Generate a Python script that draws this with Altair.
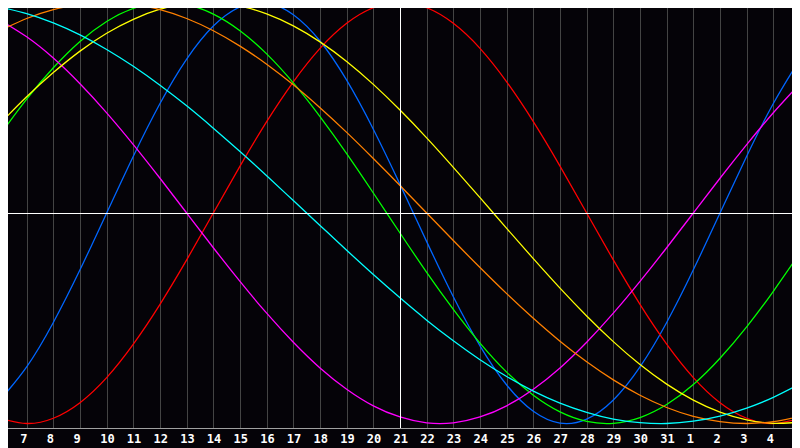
import json
import altair as alt
import pandas as pd

# day index: -1 = day 6 (left edge) ... 29 = day 5 of next month (right edge)
day_index = list(range(-1, 30))
tick_index = list(range(0, 29))
day_labels = ["7", "8", "9", "10", "11", "12", "13", "14", "15", "16", "17", "18",
              "19", "20", "21", "22", "23", "24", "25", "26", "27", "28", "29", "30",
              "31", "1", "2", "3", "4"]
today_index = [14]
midline = [0.0]

physical = [-0.888, -0.731, -0.520, -0.270, 0.0, 0.270, 0.520, 0.731, 0.888, 0.979, 0.998,
            0.942, 0.817, 0.631, 0.398, 0.136, -0.136, -0.398, -0.631, -0.817, -0.942,
            -0.998, -0.979, -0.888, -0.731, -0.520, -0.270, 0.0, 0.270, 0.520, 0.731]
emotional = [-0.975, -1.0, -0.975, -0.901, -0.782, -0.623, -0.434, -0.223, 0.0, 0.223, 0.434,
             0.623, 0.782, 0.901, 0.975, 1.0, 0.975, 0.901, 0.782, 0.623, 0.434, 0.223, 0.0,
             -0.223, -0.434, -0.623, -0.782, -0.901, -0.975, -1.0, -0.975]
intellectual = [0.372, 0.541, 0.690, 0.815, 0.910, 0.972, 0.999, 0.990, 0.945, 0.866, 0.756,
                0.618, 0.458, 0.282, 0.095, -0.095, -0.282, -0.458, -0.618, -0.756, -0.866,
                -0.945, -0.990, -0.999, -0.972, -0.910, -0.815, -0.690, -0.541, -0.372, -0.189]
intuitive = [0.916, 0.837, 0.736, 0.614, 0.476, 0.325, 0.165, 0.0, -0.165, -0.325, -0.476,
             -0.614, -0.736, -0.837, -0.916, -0.969, -0.997, -0.997, -0.969, -0.916, -0.837,
             -0.736, -0.614, -0.476, -0.325, -0.165, 0.0, 0.165, 0.325, 0.476, 0.614]
aesthetic = [0.425, 0.552, 0.667, 0.769, 0.854, 0.920, 0.968, 0.994, 0.999, 0.983, 0.946,
             0.889, 0.813, 0.720, 0.611, 0.489, 0.357, 0.217, 0.073, -0.073, -0.217, -0.357,
             -0.489, -0.611, -0.720, -0.813, -0.889, -0.946, -0.983, -0.999, -0.994]
awareness = [0.866, 0.924, 0.966, 0.991, 1.0, 0.991, 0.966, 0.924, 0.866, 0.793, 0.707,
             0.609, 0.5, 0.383, 0.259, 0.131, 0.0, -0.131, -0.259, -0.383, -0.5, -0.609,
             -0.707, -0.793, -0.866, -0.924, -0.966, -0.991, -1.0, -0.991, -0.966]
spiritual = [0.979, 0.947, 0.903, 0.846, 0.777, 0.697, 0.607, 0.509, 0.403, 0.292, 0.177,
             0.059, -0.059, -0.177, -0.292, -0.403, -0.509, -0.607, -0.697, -0.777, -0.846,
             -0.903, -0.947, -0.979, -0.996, -1.0, -0.989, -0.965, -0.927, -0.876, -0.812]

series_names = ["Physical", "Emotional", "Intellectual", "Intuitive", "Aesthetic",
                "Awareness", "Spiritual"]
series_values = [physical, emotional, intellectual, intuitive, aesthetic, awareness, spiritual]
series_colors = ["#0066ff", "#ff0000", "#00ff00", "#ff00ff", "#ffff00", "#ff8000", "#00ffff"]

rows = []
for name, vals in zip(series_names, series_values):
    for i, v in zip(day_index, vals):
        rows.append({"i": i, "v": v, "series": name})
df = pd.DataFrame(rows)

x_scale = alt.Scale(domain=[-1, 29], nice=False, zero=False)
y_scale = alt.Scale(domain=[-1.0214, 1.0119], nice=False, zero=False)

label_expr = json.dumps(day_labels) + "[datum.value]"

lines = alt.Chart(df).mark_line(strokeWidth=1.3, interpolate="natural").encode(
    x=alt.X("i:Q", scale=x_scale,
            axis=alt.Axis(values=tick_index, tickCount=60, labelExpr=label_expr, title=None,
                          grid=True, gridColor="#444444", gridWidth=1,
                          ticks=False, domain=True, domainColor="#a0a0a0", domainWidth=1,
                          labelColor="#ffffff", labelFont="DejaVu Sans Mono",
                          labelFontWeight="bold", labelFontSize=12, labelAlign="left",
                          labelOffset=-7, labelPadding=5, labelFlush=False,
                          labelOverlap=False, labelBound=False)),
    y=alt.Y("v:Q", scale=y_scale, axis=None),
    color=alt.Color("series:N", scale=alt.Scale(domain=series_names, range=series_colors),
                    legend=None),
)

vrule = alt.Chart(pd.DataFrame({"i": today_index})).mark_rule(
    color="#ffffff", strokeWidth=1, xOffset=0.5
).encode(x=alt.X("i:Q", scale=x_scale))

hrule = alt.Chart(pd.DataFrame({"v": midline})).mark_rule(
    color="#ffffff", strokeWidth=1, yOffset=0.5
).encode(y=alt.Y("v:Q", scale=y_scale))

chart = alt.layer(lines, vrule, hrule).properties(
    width=800, height=428,
    autosize=alt.AutoSizeParams(type="none"),
    padding={"left": -8, "top": -8, "right": -8, "bottom": 20},
    background="#050308",
).configure_view(strokeWidth=0)

chart.save("out.html", embed_options={"renderer": "svg", "actions": False})
